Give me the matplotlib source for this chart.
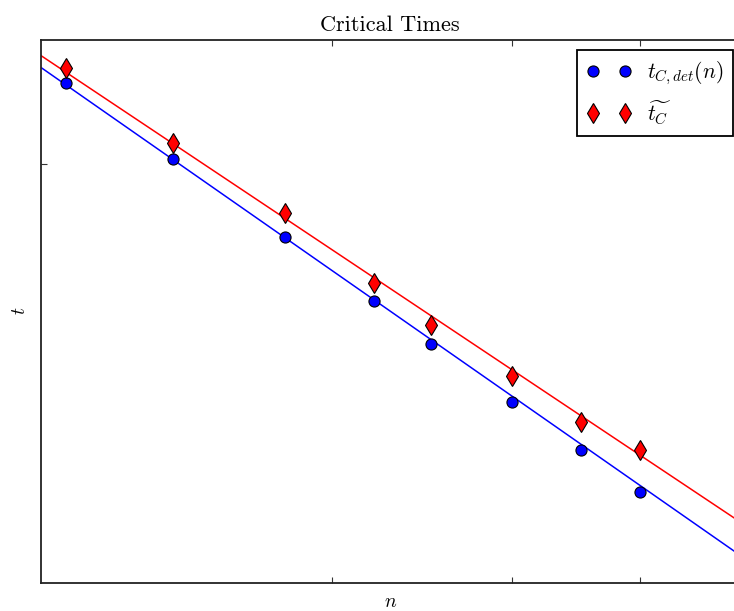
import numpy as np
import matplotlib
matplotlib.use("Agg")
import matplotlib.pyplot as plt
from matplotlib.ticker import FixedLocator, NullLocator, NullFormatter

plt.rcParams['font.family'] = 'serif'
plt.rcParams['font.serif'] = ['cmr10']
plt.rcParams['mathtext.fontset'] = 'cm'
plt.rcParams['axes.unicode_minus'] = False

# sample sizes and measured critical times
n_vals = [1.1, 1.4, 1.8, 2.2, 2.5, 3.0, 3.5, 4.0]
t_det = [22.80, 20.15, 17.78, 16.03, 14.96, 13.62, 12.62, 11.78]
t_tilde = [23.36, 20.68, 18.49, 16.50, 15.43, 14.21, 13.20, 12.62]

# power-law curves t = c * n**p
det_coef, det_exp = 23.82, -0.5
tilde_coef, tilde_exp = 24.26, -0.478

x_ticks = [2, 3, 4]
y_ticks = [20]
x_limits = (1.0396, 5.0)
y_limits = (10.18, 24.44)

fig = plt.figure(figsize=(7.34, 6.11), dpi=100)
ax = fig.add_axes([41 / 734, 28 / 611, 698.5 / 734, 543.5 / 611])
ax.set_xscale('log')
ax.set_yscale('log')

n_line = np.linspace(1.0, 6.0, 200)
ax.plot(n_line, det_coef * n_line ** det_exp, color='blue', lw=1.1, zorder=2)
ax.plot(n_line, tilde_coef * n_line ** tilde_exp, color='red', lw=1.1, zorder=2)

ax.plot(n_vals, t_det, 'o', color='blue', mec='black', mew=0.8, ms=8,
        label=r'$t_{C,det}(n)$', zorder=3)
ax.plot(n_vals, t_tilde, 'd', color='red', mec='black', mew=0.8, ms=10,
        label=r'$\widetilde{t_C}$', zorder=3)

ax.set_xlim(*x_limits)
ax.set_ylim(*y_limits)

ax.xaxis.set_major_locator(FixedLocator(x_ticks))
ax.yaxis.set_major_locator(FixedLocator(y_ticks))
for axis in (ax.xaxis, ax.yaxis):
    axis.set_minor_locator(NullLocator())
    axis.set_major_formatter(NullFormatter())
    axis.set_minor_formatter(NullFormatter())
ax.tick_params(which='both', direction='in', top=True, right=True,
               length=4, width=0.8, color='#333333')
for sp in ax.spines.values():
    sp.set_linewidth(1.3)
    sp.set_color('#222222')

ax.set_title('Critical Times', fontsize=16, pad=6)
ax.set_xlabel('$n$', fontsize=14, labelpad=4)
ax.set_ylabel('$t$', fontsize=14, labelpad=5)

leg = ax.legend(loc='upper right', bbox_to_anchor=((733 - 41) / 698.5, 0.9807),
                borderaxespad=0, numpoints=2, fontsize=15.5, fancybox=False,
                frameon=True, framealpha=1, edgecolor='black',
                handlelength=2.1, handletextpad=0.7, labelspacing=0.55,
                borderpad=0.45)
leg.get_frame().set_linewidth(1.3)

fig.savefig('out.png', dpi=100)
